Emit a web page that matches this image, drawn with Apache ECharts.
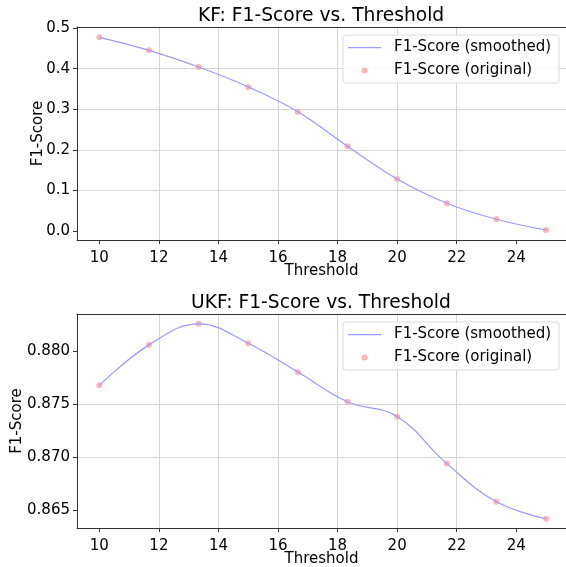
<!DOCTYPE html>
<html>
<head>
<meta charset="utf-8">
<script src="https://cdn.jsdelivr.net/npm/echarts@6/dist/echarts.min.js"></script>
<style>
  html, body { margin: 0; padding: 0; background: #fff; }
  #chart { width: 566px; height: 567px; }
</style>
</head>
<body>
<div id="chart"></div>
<script>
// thresholds (x) shared by both panels
var thresholds = [10, 11.667, 13.333, 15, 16.667, 18.333, 20, 21.667, 23.333, 25];
// F1 scores
var kfScores = [0.477, 0.445, 0.404, 0.355, 0.294, 0.209, 0.128, 0.0685, 0.029, 0.0025];
var ukfScores = [0.87677, 0.8806, 0.88259, 0.88076, 0.87803, 0.87522, 0.87383, 0.86937, 0.86576, 0.86415];
// tick labels
var xTicks = [10, 12, 14, 16, 18, 20, 22, 24];
var kfTicks = [0.0, 0.1, 0.2, 0.3, 0.4, 0.5];
var ukfTicks = [0.865, 0.870, 0.875, 0.880];

var FONT = "DejaVu Sans";
var LINE_COLOR = "#9a9aff";
var DOT_COLOR = "#ffa3a3";
var SPINE = "#333333";
var X_MIN = 9.25;
var X_MAX = 25.67; // right spine falls just outside the picture

function pairs(ys) {
  return thresholds.map(function (x, i) {
    return [x, ys[i]];
  });
}

function xAxisFor(idx) {
  return {
    type: "value",
    gridIndex: idx,
    min: X_MIN,
    max: X_MAX,
    name: "Threshold",
    nameLocation: "middle",
    nameGap: 24,
    nameMoveOverlap: false,
    nameTextStyle: { fontFamily: FONT, fontSize: 15, color: "#000" },
    axisLine: { show: true, onZero: false, lineStyle: { color: SPINE, width: 1 } },
    axisTick: { show: true, length: 4, customValues: xTicks, lineStyle: { color: SPINE } },
    axisLabel: {
      customValues: xTicks,
      margin: 6,
      padding: [5, 0, 0, 0],
      fontFamily: FONT,
      fontSize: 15,
      color: "#000",
    },
    splitLine: { show: true, showMinLine: false, showMaxLine: false, lineStyle: { color: "#d5d5d5", width: 1 } },
  };
}

// top spine only
function topSpine(idx) {
  return {
    type: "value",
    gridIndex: idx,
    position: "top",
    min: X_MIN,
    max: X_MAX,
    axisLine: { show: true, onZero: false, lineStyle: { color: SPINE, width: 1 } },
    axisTick: { show: false },
    axisLabel: { show: false },
    splitLine: { show: false },
  };
}

function yAxisFor(idx, min, max, ticks, digits, gap) {
  return {
    type: "value",
    gridIndex: idx,
    min: min,
    max: max,
    name: "F1-Score",
    nameLocation: "middle",
    nameGap: gap,
    nameMoveOverlap: false,
    nameTextStyle: { fontFamily: FONT, fontSize: 15, color: "#000" },
    axisLine: { show: true, onZero: false, lineStyle: { color: SPINE, width: 1 } },
    axisTick: { show: true, length: 4, customValues: ticks, lineStyle: { color: SPINE } },
    axisLabel: {
      customValues: ticks,
      margin: 7,
      fontFamily: FONT,
      fontSize: 15,
      color: "#000",
      formatter: function (v) {
        return v.toFixed(digits);
      },
    },
    splitLine: { show: true, showMinLine: false, showMaxLine: false, lineStyle: { color: "#d5d5d5", width: 1 } },
  };
}

function legendFor(top) {
  return {
    orient: "vertical",
    right: 7,
    top: top,
    padding: [5, 8, 5, 5],
    itemGap: 8,
    itemWidth: 33,
    itemHeight: 15,
    borderColor: "#dcdcdc",
    borderWidth: 1,
    borderRadius: 3,
    backgroundColor: "rgba(255,255,255,0.85)",
    itemStyle: { borderWidth: 0 },
    textStyle: { fontFamily: FONT, fontSize: 15, color: "#000", padding: [0, 0, 0, 8] },
    data: [
      { name: "F1-Score (smoothed)", icon: "path://M0,0M33,15M0,7h33v1.2h-33z" },
      { name: "F1-Score (original)", icon: "path://M0,0M33,15M13.5,7.5a3,3 0 1,0 6,0a3,3 0 1,0 -6,0z" },
    ],
  };
}

function seriesFor(idx, ys) {
  return [
    {
      name: "F1-Score (smoothed)",
      type: "line",
      xAxisIndex: idx,
      yAxisIndex: idx,
      data: pairs(ys),
      smooth: 0.4,
      showSymbol: false,
      symbol: "none",
      itemStyle: { color: LINE_COLOR },
      lineStyle: { color: LINE_COLOR, width: 1.2 },
      z: 3,
    },
    {
      name: "F1-Score (original)",
      type: "scatter",
      xAxisIndex: idx,
      yAxisIndex: idx,
      data: pairs(ys),
      symbolSize: 6,
      itemStyle: { color: DOT_COLOR },
      z: 2,
    },
  ];
}

var chart = echarts.init(document.getElementById("chart"), null, { renderer: "canvas" });

var option = {
  animation: false,
  backgroundColor: "#fff",
  title: [
    {
      text: "KF: F1-Score vs. Threshold",
      left: 193,
      top: 2,
      textStyle: { fontFamily: FONT, fontSize: 18.7, fontWeight: "normal", color: "#000" },
    },
    {
      text: "UKF: F1-Score vs. Threshold",
      left: 186,
      top: 289,
      textStyle: { fontFamily: FONT, fontSize: 18.7, fontWeight: "normal", color: "#000" },
    },
  ],
  legend: [legendFor(35), legendFor(322)],
  grid: [
    { left: 77, top: 27, right: 0, height: 213, outerBoundsMode: "none" },
    { left: 77, top: 314, right: 0, height: 214, outerBoundsMode: "none" },
  ],
  // series use axes 0 and 1; 2 and 3 only draw the top spines
  xAxis: [xAxisFor(0), xAxisFor(1), topSpine(0), topSpine(1)],
  yAxis: [
    yAxisFor(0, -0.022, 0.5025, kfTicks, 1, 31),
    yAxisFor(1, 0.86328, 0.88352, ukfTicks, 3, 52),
  ],
  series: seriesFor(0, kfScores).concat(seriesFor(1, ukfScores)),
};

chart.setOption(option);
</script>
</body>
</html>
